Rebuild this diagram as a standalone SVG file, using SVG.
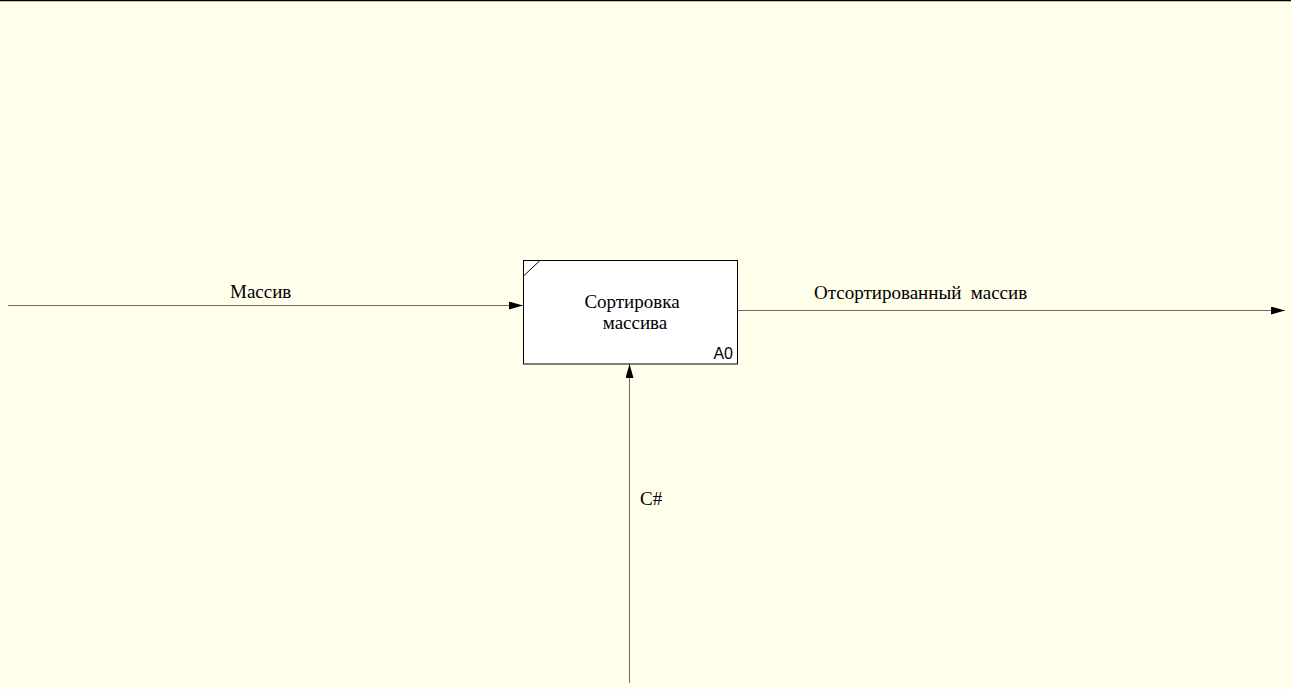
<svg xmlns="http://www.w3.org/2000/svg" width="1291" height="689" viewBox="0 0 1291 689">
  <style>
    .lbl { font-family: "Liberation Serif", "Times New Roman", serif; font-size: 19px; fill: #000; }
    .num { font-family: "Liberation Sans", Arial, sans-serif; font-size: 16px; fill: #000; }
    .arrow { stroke: #6b6b5e; stroke-width: 1; fill: none; }
    .box { fill: #fff; stroke: #000; stroke-width: 1; }
  </style>
  <defs>
    <marker id="head" markerWidth="14" markerHeight="8" refX="14" refY="4" orient="auto" markerUnits="userSpaceOnUse">
      <path d="M0,0 L14,4 L0,8 Z" fill="#000"/>
    </marker>
  </defs>
  <rect x="0" y="0" width="1291" height="689" fill="#ffffeb"/>
  <line x1="0" y1="0.5" x2="1291" y2="0.5" stroke="#000" stroke-width="1.5"/>

  <g id="connectors">
    <g id="input-massiv">
      <line class="arrow" x1="8" y1="305.5" x2="523" y2="305.5" marker-end="url(#head)"/>
      <text class="lbl" x="230" y="298">Массив</text>
    </g>
    <g id="output-sorted">
      <line class="arrow" x1="737" y1="310.5" x2="1285" y2="310.5" marker-end="url(#head)"/>
      <text class="lbl" x="814" y="299" xml:space="preserve">Отсортированный  массив</text>
    </g>
    <g id="mechanism-csharp">
      <line class="arrow" x1="629.5" y1="683" x2="629.5" y2="364" marker-end="url(#head)"/>
      <text class="lbl" x="640" y="505">C#</text>
    </g>
  </g>

  <g id="node-a0">
    <rect class="box" x="523.5" y="260.5" width="214" height="103.5"/>
    <line x1="523.5" y1="276" x2="540" y2="260.5" stroke="#000" stroke-width="1"/>
    <text class="lbl" x="632" y="308" text-anchor="middle">Сортировка</text>
    <text class="lbl" x="635" y="329" text-anchor="middle">массива</text>
    <text class="num" x="733" y="359" text-anchor="end">A0</text>
  </g>
</svg>
